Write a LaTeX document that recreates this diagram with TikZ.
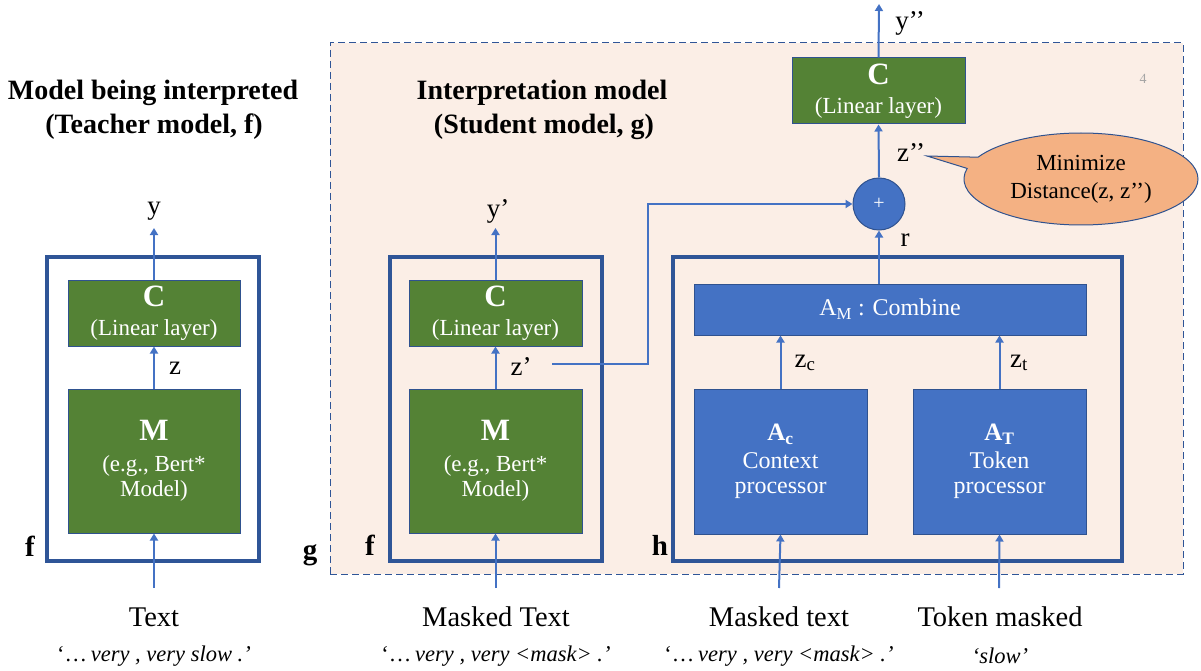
\documentclass[tikz,border=0pt]{standalone}
\usepackage{fontspec}
\setmainfont{Liberation Serif}
\usetikzlibrary{arrows.meta,shapes.callouts}
\definecolor{gfill}{HTML}{548235}
\definecolor{bfill}{HTML}{4472C4}
\definecolor{bline}{HTML}{2F528F}
\definecolor{frameblue}{HTML}{2F5597}
\definecolor{arrblue}{HTML}{4472C4}
\definecolor{peach}{HTML}{FBEEE6}
\definecolor{calloutfill}{HTML}{F4B183}
\newcommand{\fs}[1]{\fontsize{#1}{#1}\selectfont}
\tikzset{
  frame/.style={draw=frameblue,line width=3.5pt,inner sep=0pt},
  greenbox/.style={draw=bline,line width=1pt,fill=gfill,text=white,align=center,inner sep=0pt},
  bluebox/.style={draw=bline,line width=1pt,fill=bfill,text=white,align=center,inner sep=0pt},
  arr/.style={draw=arrblue,line width=2pt,-{Triangle[length=7pt,width=8pt]}},
  lbl/.style={inner sep=0pt,font=\fs{27}},
  ttl/.style={inner sep=0pt,font=\fontsize{28}{34}\selectfont\bfseries,align=center},
  bot/.style={inner sep=0pt,font=\fs{28.5}},
  ital/.style={inner sep=0pt,font=\fs{22.5}},
  lblbold/.style={inner sep=0pt,font=\fs{29}\bfseries},
}
\begin{document}
\begin{tikzpicture}[x=1pt,y=-1pt]
\useasboundingbox (0,0) rectangle (1201,671);
% g dashed region
\node[draw=frameblue,line width=1pt,dash pattern=on 7pt off 4pt,fill=peach,minimum width=853,minimum height=531,inner sep=0pt] (gbox) at (756.5,308.5) {};
% titles
\node[ttl] (t1) at (153,93) {Model being interpreted};
\node[ttl] (t2) at (154,127) {(Teacher model, f)};
\node[ttl] (t3) at (542,93) {Interpretation model};
\node[ttl] (t4) at (544,127) {(Student model, g)};
\node[inner sep=0pt,font=\fs{14},text=black!35] (four) at (1143,79) {4};
% left f
\node[frame,minimum width=212,minimum height=304] (fL) at (153,409) {};
\node[greenbox,minimum width=172,minimum height=66,font=\fontsize{23}{29}\selectfont] (CL) at (154,313) {{\fs{31}\bfseries C}\\(Linear layer)};
\node[greenbox,minimum width=172,minimum height=144,font=\fontsize{23}{25}\selectfont] (ML) at (154,461) {{\fs{31}\bfseries M}\\[6pt](e.g., Bert*\\Model)};
\node[lblbold] (fLl) at (30,546) {f};
% middle f
\node[frame,minimum width=212,minimum height=304] (fM) at (496,409) {};
\node[greenbox,minimum width=173,minimum height=66,font=\fontsize{23}{29}\selectfont] (CM) at (495.5,313) {{\fs{31}\bfseries C}\\(Linear layer)};
\node[greenbox,minimum width=173,minimum height=144,font=\fontsize{23}{25}\selectfont] (MM) at (495.5,461) {{\fs{31}\bfseries M}\\[6pt](e.g., Bert*\\Model)};
\node[lblbold] (fMl) at (370,545) {f};
\node[lblbold] (gl) at (310,555) {g};
% h
\node[frame,minimum width=449,minimum height=304] (hb) at (897.5,409) {};
\node[lblbold] (hl) at (660,545) {h};
\node[bluebox,minimum width=392,minimum height=51,font=\fs{24}] (AM) at (890,309.5) {A\textsubscript{M} : Combine};
\node[bluebox,minimum width=173,minimum height=145,font=\fontsize{24}{25}\selectfont] (Ac) at (780.5,461.5) {{\fs{25}\bfseries A\textsubscript{c}}\\[3pt]Context\\processor};
\node[bluebox,minimum width=173,minimum height=145,font=\fontsize{24}{25}\selectfont] (AT) at (999.5,461.5) {{\fs{25}\bfseries A\textsubscript{T}}\\[3pt]Token\\processor};
% top
\node[greenbox,minimum width=173,minimum height=66,font=\fontsize{23}{29}\selectfont] (CT) at (878.5,91) {{\fs{31}\bfseries C}\\(Linear layer)};
\node[circle,draw=bline,line width=1pt,fill=bfill,text=white,minimum size=52,inner sep=0pt,font=\fs{20}] (plus) at (879,204) {+};
% callout
\node[ellipse callout,draw=bline,line width=1pt,fill=calloutfill,minimum width=234,minimum height=92,inner sep=0pt,align=center,font=\fontsize{23}{28}\selectfont,callout absolute pointer={(927,156)}] (call) at (1081,179) {Minimize\\Distance(z, z’’)};
% labels
\node[lbl] (yL) at (154,211) {y};
\node[lbl] (yM) at (498,211) {y’};
\node[lbl] (yT) at (910,23) {y’’};
\node[lbl] (zL) at (175,368) {z};
\node[lbl] (zM) at (521,367) {z’};
\node[lbl] (zT) at (911,153) {z’’};
\node[lbl] (rr) at (905,240) {r};
\node[lbl] (zc) at (805,363) {z\textsubscript{c}};
\node[lbl] (zt) at (1019,363) {z\textsubscript{t}};
% bottom text
\node[bot] (b1) at (154,617) {Text};
\node[bot] (b2) at (496,617) {Masked Text};
\node[bot] (b3) at (779,617) {Masked text};
\node[bot] (b4) at (1000,617) {Token masked};
\node[ital] (i1) at (154,656) {‘…\,\textit{very , very slow .’}};
\node[ital] (i2) at (496,656) {‘…\,\textit{very , very <mask> .’}};
\node[ital] (i3) at (779,656) {‘…\,\textit{very , very <mask> .’}};
\node[ital] (i4) at (1000,656) {\textit{‘slow’}};
% coordinates
\coordinate (inL) at (154,588);
\coordinate (inM) at (495.5,588);
\coordinate (inC) at (779,588);
\coordinate (inT) at (999,588);
\coordinate (outL) at (154,228);
\coordinate (outM) at (495.5,228);
\coordinate (outT) at (879,4);
\coordinate (zstart) at (552,364);
\coordinate (bend1) at (648,364);
\coordinate (bend2) at (648,204);
% arrows
\draw[arr] (inL) -- (ML.south);
\draw[arr] (ML.north) -- (CL.south);
\draw[arr] (CL.north) -- (outL);
\draw[arr] (inM) -- (MM.south);
\draw[arr] (MM.north) -- (CM.south);
\draw[arr] (CM.north) -- (outM);
\draw[arr] (inC) -- (Ac.south);
\draw[arr] (inT) -- (AT.south);
\draw[arr] (Ac.north) -- (Ac.north |- AM.south);
\draw[arr] (AT.north) -- (AT.north |- AM.south);
\draw[arr] (AM.north -| plus.south) -- (plus.south);
\draw[arr] (plus.north) -- (CT.south);
\draw[arr] (CT.north) -- (outT);
\draw[arr] (zstart) -- (bend1) -- (bend2) -- (plus.west);
\end{tikzpicture}
\end{document}
